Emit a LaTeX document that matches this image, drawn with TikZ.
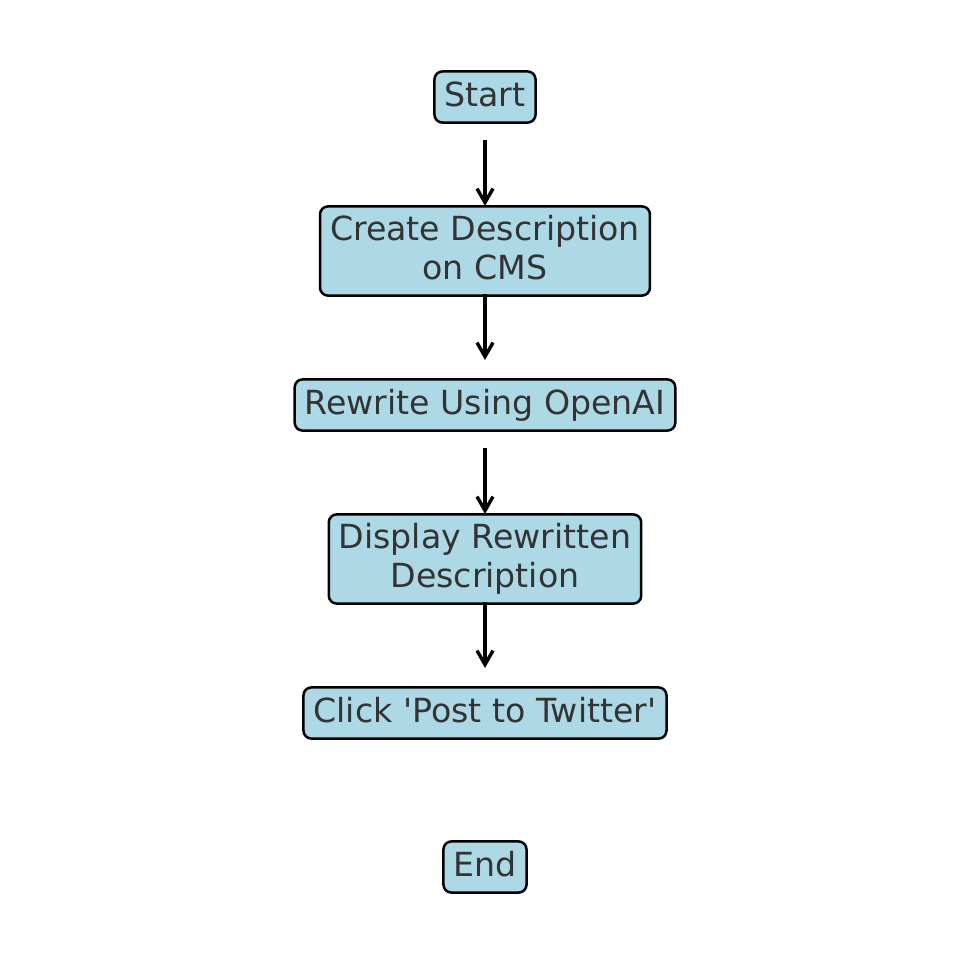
\documentclass[tikz,border=0pt]{standalone}
\usepackage{fontspec}
\setmainfont{DejaVu Sans}
\usetikzlibrary{arrows.meta}
\definecolor{boxblue}{HTML}{ADD8E6}
\definecolor{textgray}{HTML}{333333}

\begin{document}
\begin{tikzpicture}[x=0.5pt,y=0.5pt,
   stepbox/.style={draw=black,line width=1.25pt,fill=boxblue,rounded corners=4pt,
      text=textgray,font=\fontsize{16.6}{19.5}\selectfont,
      inner xsep=5pt,inner ysep=4.9pt,text height=12.4pt,text depth=3.4pt},
   twoline/.style={stepbox,align=center,text height=,text depth=3.4pt,
      inner ysep=0pt,minimum height=44.6pt},
   flow/.style={-{Straight Barb[length=7pt,width=8pt]},line width=1.7pt}]
\useasboundingbox (0,0) rectangle (969,-964);
\node[stepbox] (start) at (485,-97) {Start};
\node[twoline] (create) at (485,-251) {Create Description\\on CMS};
\node[stepbox] (rewrite) at (485,-405) {Rewrite Using OpenAI};
\node[twoline] (display) at (485,-559) {Display Rewritten\\Description};
\node[stepbox] (post) at (485,-713) {Click \textquotesingle Post to Twitter\textquotesingle};
\node[stepbox] (end) at (485,-867) {End};
\draw[flow] ([yshift=-21.5pt]start.center) -- ([yshift=-54.5pt]start.center);
\draw[flow] ([yshift=-21.5pt]create.center) -- ([yshift=-54.5pt]create.center);
\draw[flow] ([yshift=-21.5pt]rewrite.center) -- ([yshift=-54.5pt]rewrite.center);
\draw[flow] ([yshift=-21.5pt]display.center) -- ([yshift=-54.5pt]display.center);
\end{tikzpicture}
\end{document}
